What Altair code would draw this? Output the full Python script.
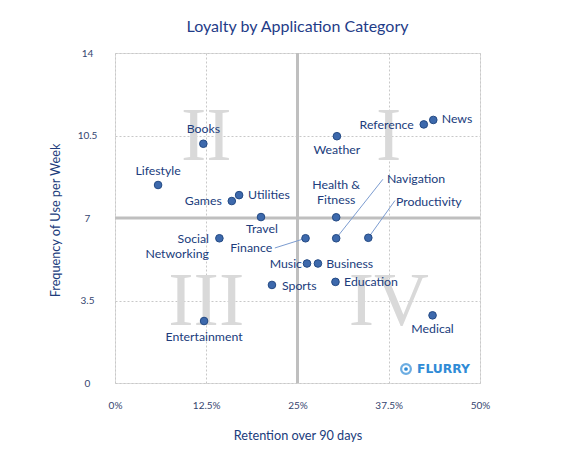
import altair as alt
import pandas as pd

# ---------------- data ----------------
categories = ["Books", "Lifestyle", "Games", "Utilities", "Travel",
              "Social Networking", "Finance", "Music", "Business", "Sports",
              "Education", "Entertainment", "Medical", "Weather", "Reference",
              "News", "Health & Fitness", "Navigation", "Productivity"]
display_labels = ["Books", "Lifestyle", "Games", "Utilities", "Travel",
                  "Social\nNetworking", "Finance", "Music", "Business", "Sports",
                  "Education", "Entertainment", "Medical", "Weather", "Reference",
                  "News", "Health &\nFitness", "Navigation", "Productivity"]
retention = [12.1, 5.9, 16.0, 17.0, 20.0, 14.3, 26.1, 26.3, 27.8, 21.5,
             30.2, 12.2, 43.5, 30.4, 42.3, 43.6, 30.3, 30.3, 34.7]
frequency = [10.15, 8.4, 7.72, 7.97, 7.04, 6.14, 6.14, 5.07, 5.07, 4.16,
             4.29, 2.63, 2.87, 10.47, 10.97, 11.16, 7.03, 6.14, 6.16]

x_ticks = [0, 12.5, 25, 37.5, 50]
y_ticks = [0, 3.5, 7, 10.5, 14]
quadrant_names = ["I", "II", "III", "IV"]
quadrant_x = [37.5, 12.5, 12.5, 37.5]
quadrant_y = [10.5, 10.5, 3.5, 3.5]
x_split = [25]
y_split = [7]

# ---------------- label layout (pixel offsets from each point) ----------------
label_dx = [0, 0, -10, 9, 1, -10.4, -33.4, -5, 8.3, 10,
            8.6, 0, 0, 0, -10, 8.4, 0, 50.7, 27.7]
label_dy = [-14.4, -14, 0, 0, 12, 1, 9.4, 0.7, 0.7, 1,
            0, 15.7, 14, 13.7, 0.7, -0.7, -32.7, -59, -36]
label_align = ["center", "center", "right", "left", "center", "right", "right",
               "right", "left", "left", "left", "center", "center", "center",
               "right", "left", "center", "left", "left"]
leader_cats = ["Finance", "Navigation", "Productivity"]
leader_dx = [-30.7, 46.7, 26.7]
leader_dy = [9.7, -59, -37.3]

W, H = 365, 330
XMAX, YMAX = 50, 14
ux = XMAX / W
uy = YMAX / H

pts = pd.DataFrame({"category": categories, "label": display_labels,
                    "retention": retention, "frequency": frequency,
                    "align": label_align})
pts["lx"] = pts["retention"] + pd.Series(label_dx) * ux
pts["ly"] = pts["frequency"] - pd.Series(label_dy) * uy

lead = pts.set_index("category").loc[leader_cats].reset_index()
lead["sx"] = lead["retention"] + pd.Series(leader_dx) * ux
lead["sy"] = lead["frequency"] - pd.Series(leader_dy) * uy

quad = pd.DataFrame({"name": quadrant_names, "qx": quadrant_x, "qy": quadrant_y})

NAVY = "#203C7C"
FONT = "Lato"

xscale = alt.Scale(domain=[0, XMAX], nice=False, zero=False)
yscale = alt.Scale(domain=[0, YMAX], nice=False, zero=False)

xaxis = alt.Axis(values=x_ticks, labelExpr="datum.value + '%'", grid=True,
                 gridDash=[2, 2], gridColor="#C8C8C8", gridWidth=1,
                 domain=False, ticks=False, labelPadding=22, labelFlush=False,
                 labelBaseline="middle", labelFont=FONT, labelFontSize=10,
                 labelColor="#35456F", title="Retention over 90 days",
                 titleFont=FONT, titleFontSize=12.7, titleColor=NAVY,
                 titleFontWeight="normal", titleY=52, titleBaseline="middle")
yaxis = alt.Axis(values=y_ticks, format=".1~f", grid=True, gridDash=[2, 2],
                 gridColor="#C8C8C8", gridWidth=1, domain=False, ticks=False,
                 labelPadding=28, labelFlush=False,
                 labelAlign="center", labelBaseline="middle", labelFont=FONT,
                 labelFontSize=10, labelColor="#35456F",
                 title="Frequency of Use per Week", titleFont=FONT,
                 titleFontSize=12.7, titleColor=NAVY, titleFontWeight="normal",
                 titleX=-60, titleY=167, titleBaseline="middle",
                 titleAlign="center")

base = alt.Chart(pts)

numerals = alt.Chart(quad).mark_text(
    font="Liberation Serif", fontSize=76, color="#D9D9D9",
    baseline="alphabetic", dy=24
).encode(x=alt.X("qx:Q", scale=xscale, axis=xaxis),
         y=alt.Y("qy:Q", scale=yscale, axis=yaxis),
         text="name:N")

vsplit = alt.Chart(pd.DataFrame({"v": x_split})).mark_rule(
    color="#BFBFBF", strokeWidth=3).encode(x=alt.X("v:Q", scale=xscale))
hsplit = alt.Chart(pd.DataFrame({"v": y_split})).mark_rule(
    color="#BFBFBF", strokeWidth=3).encode(y=alt.Y("v:Q", scale=yscale))

leaders = alt.Chart(lead).mark_rule(color="#7C9CD0", strokeWidth=1).encode(
    x=alt.X("sx:Q", scale=xscale), y=alt.Y("sy:Q", scale=yscale),
    x2="retention:Q", y2="frequency:Q")

points = base.mark_point(filled=True, shape="circle", size=58, fill="#3D69AC",
                         stroke="#244A84", strokeWidth=1, opacity=1).encode(
    x=alt.X("retention:Q", scale=xscale), y=alt.Y("frequency:Q", scale=yscale))

text_layers = []
for a in ["left", "center", "right"]:
    text_layers.append(
        base.transform_filter(alt.datum.align == a).mark_text(
            font=FONT, fontSize=12.3, color=NAVY, align=a, baseline="middle",
            lineBreak="\n", lineHeight=15
        ).encode(x=alt.X("lx:Q", scale=xscale), y=alt.Y("ly:Q", scale=yscale),
                 text="label:N"))

logo_ring = alt.Chart(pd.DataFrame({"k": [1]})).mark_point(
    shape="circle", size=95, filled=False, stroke="#2F8BD6", strokeWidth=2.2
).encode(x=alt.value(291), y=alt.value(316))
logo_dot = alt.Chart(pd.DataFrame({"k": [1]})).mark_point(
    shape="circle", size=14, filled=True, fill="#2F8BD6", opacity=1
).encode(x=alt.value(291), y=alt.value(316))
logo_text = alt.Chart(pd.DataFrame({"t": ["FLURRY"]})).mark_text(
    font="DejaVu Sans", fontWeight="bold", fontSize=12.3, color="#2F8BD6",
    align="left", baseline="middle"
).encode(x=alt.value(302), y=alt.value(316), text="t:N")

chart = alt.layer(numerals, vsplit, hsplit, leaders, points, *text_layers,
                  logo_ring, logo_dot, logo_text).properties(
    width=W, height=H,
    title=alt.TitleParams("Loyalty by Application Category", font=FONT,
                          fontSize=16, color="#1F3C88", fontWeight="normal",
                          anchor="middle", frame="group", baseline="middle",
                          offset=5),
    autosize=alt.AutoSizeParams(type="none"),
    padding={"left": 107, "top": 45, "right": 95, "bottom": 60},
).configure_view(stroke="#BFBFBF", strokeWidth=3).configure(background="white")

chart.save("out.html", embed_options={"renderer": "svg", "actions": False})
